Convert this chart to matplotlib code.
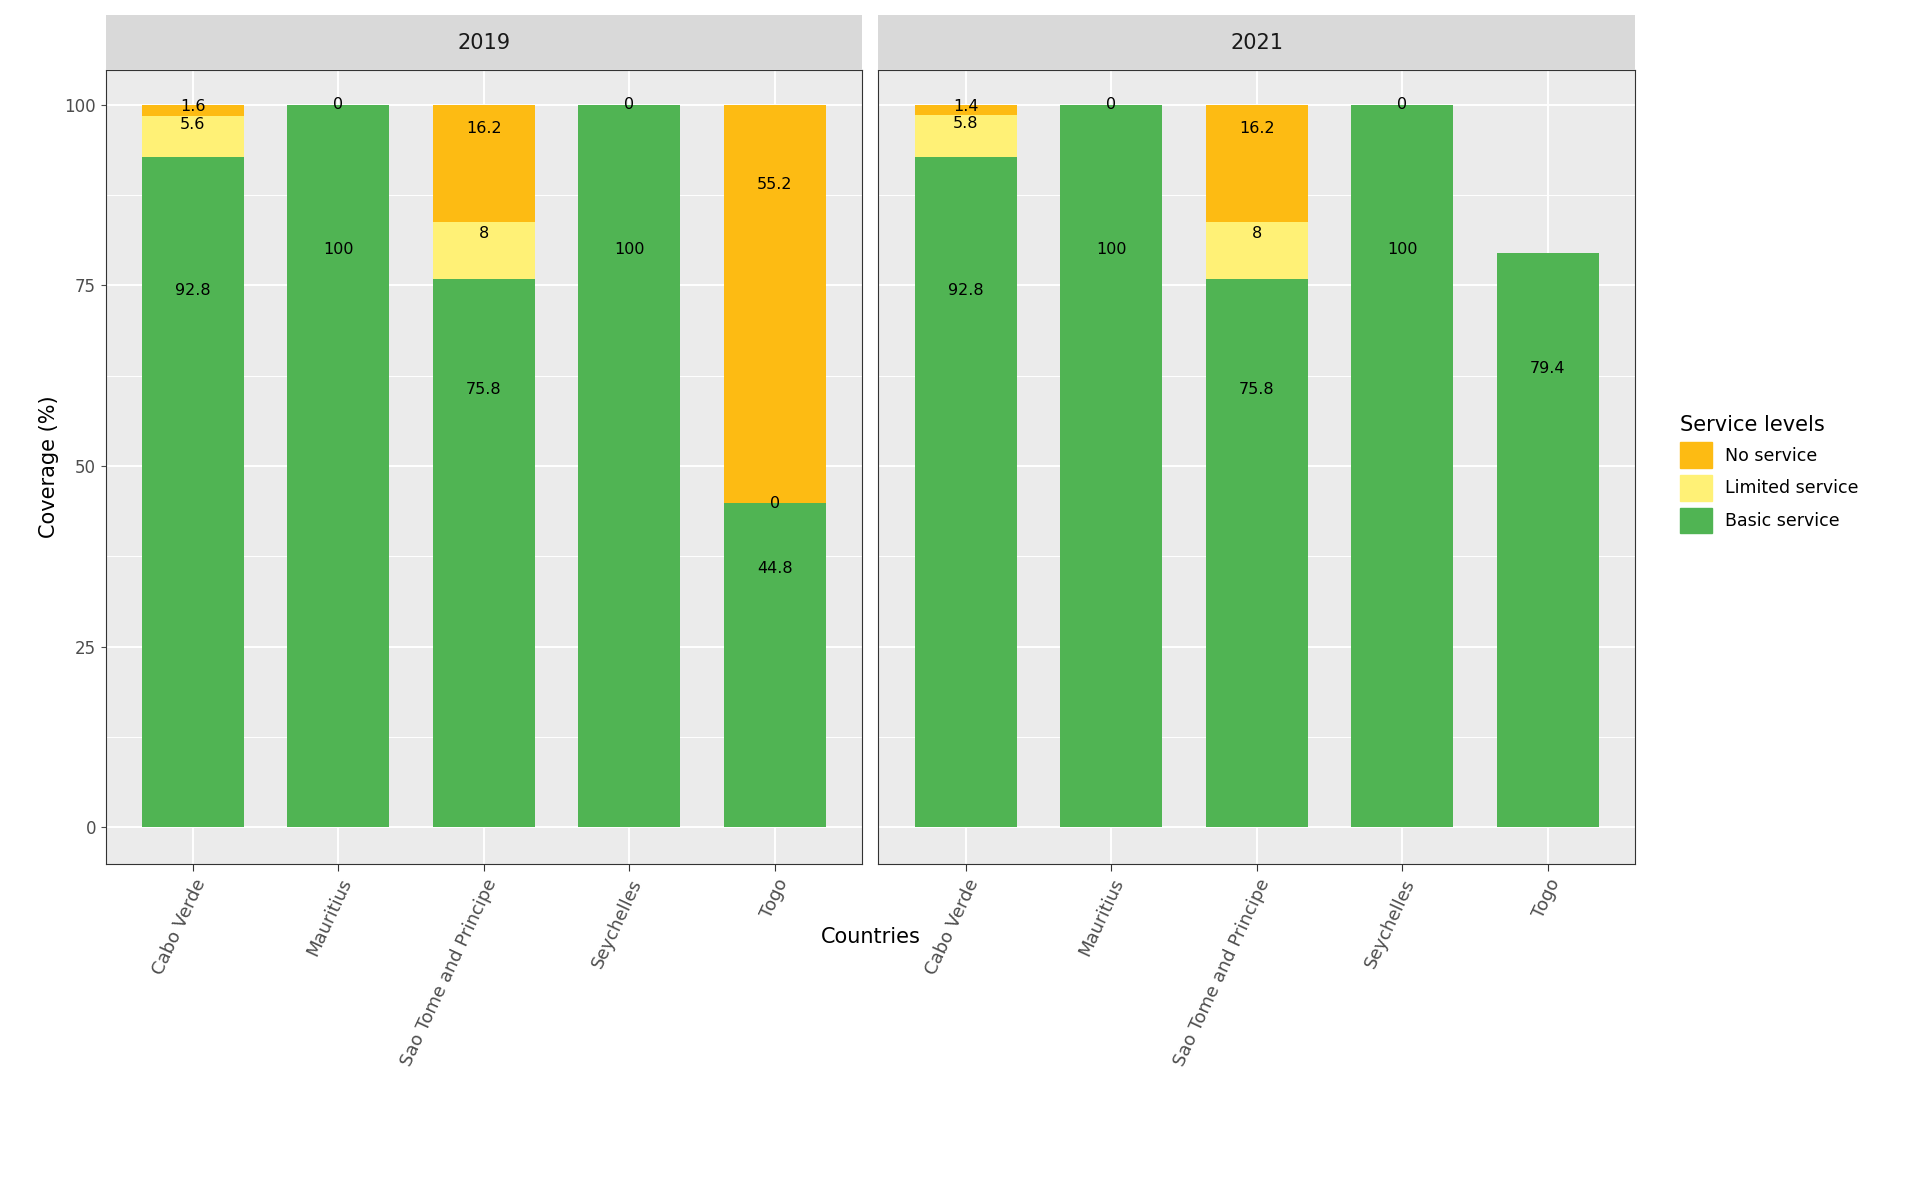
import numpy as np
import matplotlib.pyplot as plt
from matplotlib.patches import Patch

countries = ['Cabo Verde', 'Mauritius', 'Sao Tome and Principe', 'Seychelles', 'Togo']
years = ['2019', '2021']
# per year: basic, limited, none (None = segment missing)
basic = {'2019': [92.8, 100, 75.8, 100, 44.8], '2021': [92.8, 100, 75.8, 100, 79.4]}
limited = {'2019': [5.6, None, 8, None, 0], '2021': [5.8, None, 8, None, None]}
noserv = {'2019': [1.6, 0, 16.2, 0, 55.2], '2021': [1.4, 0, 16.2, 0, None]}

c_basic, c_lim, c_none = '#50B453', '#FFF176', '#FDBB13'
grey_bg = '#EBEBEB'

fig = plt.figure(figsize=(19.2, 11.86), dpi=100)
lefts = [0.055, 0.4575]
w = 0.394
bottom, top = 0.2715, 0.941
x = np.arange(len(countries))

for i, yr in enumerate(years):
    ax = fig.add_axes([lefts[i], bottom, w, top - bottom])
    ax.set_facecolor(grey_bg)
    ax.set_xlim(-0.6, 4.6)
    ax.set_ylim(-5.1, 104.8)
    ax.set_yticks([0, 25, 50, 75, 100])
    ax.set_yticks([12.5, 37.5, 62.5, 87.5], minor=True)
    ax.grid(True, which='major', color='white', lw=1.4)
    ax.grid(True, which='minor', axis='y', color='white', lw=0.7)
    ax.set_axisbelow(True)
    ax.tick_params(which='minor', length=0)
    for s in ax.spines.values():
        s.set_color('#333333')
    for j in range(len(countries)):
        base = 0
        for vals, col in [(basic[yr], c_basic), (limited[yr], c_lim), (noserv[yr], c_none)]:
            v = vals[j]
            if v is None:
                continue
            ax.bar(x[j], v, 0.7, bottom=base, color=col, zorder=2)
            ax.text(x[j], base + 0.8 * v, f'{v:g}', ha='center', va='center', fontsize=11.5, zorder=3)
            base += v
    ax.set_xticks(x)
    ax.set_xticklabels(countries, rotation=65, ha='right', rotation_mode='anchor', fontsize=13, color='#4D4D4D')
    ax.tick_params(axis='x', length=5, color='#333333')
    ax.tick_params(axis='y', labelsize=12, colors='#4D4D4D')
    if i == 0:
        ax.set_ylabel('Coverage (%)', fontsize=15)
    else:
        ax.set_yticklabels([])
        ax.tick_params(axis='y', length=0)
    sax = fig.add_axes([lefts[i], top, w, 0.987 - top])
    sax.set_facecolor('#D9D9D9')
    sax.set_xticks([]); sax.set_yticks([])
    for s in sax.spines.values():
        s.set_visible(False)
    sax.text(0.5, 0.5, yr, ha='center', va='center', fontsize=15, color='#1A1A1A', transform=sax.transAxes)

fig.text(0.4535, 0.205, 'Countries', ha='center', fontsize=15)
handles = [Patch(color=c_none, label='No service'), Patch(color=c_lim, label='Limited service'),
           Patch(color=c_basic, label='Basic service')]
fig.legend(handles=handles, title='Service levels', loc='center left', bbox_to_anchor=(0.867, 0.6),
           frameon=False, fontsize=12.5, title_fontsize=15, handlelength=1.8, handleheight=1.9,
           alignment='left', labelspacing=0.4)
fig.savefig('out.png', dpi=100)
